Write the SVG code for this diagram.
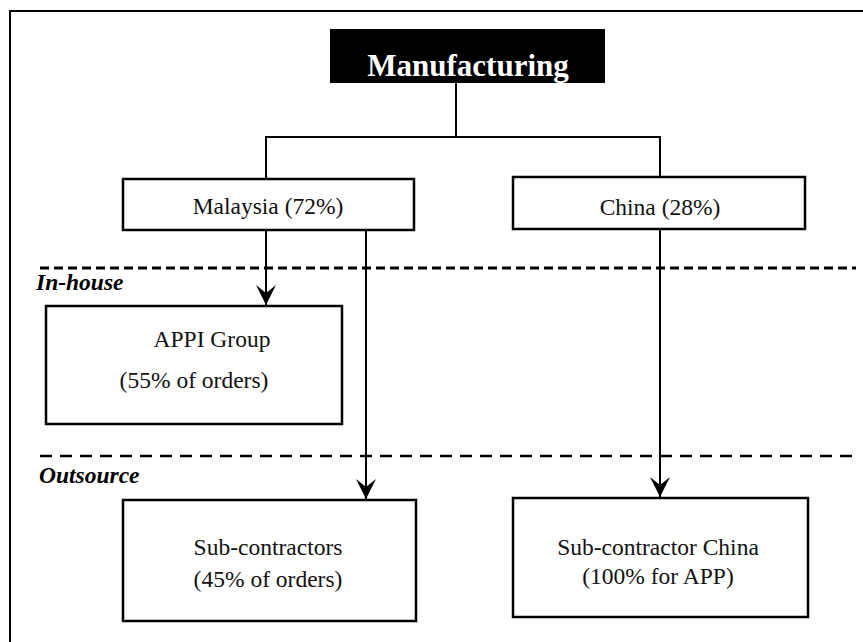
<svg xmlns="http://www.w3.org/2000/svg" width="863" height="642" viewBox="0 0 863 642">
  <style>
    .box { fill: #fff; stroke: #000; stroke-width: 2.5; }
    .line { fill: none; stroke: #000; stroke-width: 2; }
  </style>
  <defs>
    <marker id="arrow" markerUnits="userSpaceOnUse" markerWidth="24" markerHeight="24" viewBox="-22 -12 24 24" refX="0" refY="0" orient="auto" overflow="visible">
      <path d="M0,0 L-20,-10 L-12,0 L-20,10 Z" fill="#000"/>
    </marker>
  </defs>

  <rect width="863" height="642" fill="#fff"/>

  <!-- frame -->
  <path d="M10,642 V11 H863" class="line"/>

  <!-- zone separators -->
  <line x1="40" y1="268" x2="856" y2="268" stroke="#000" stroke-width="3" stroke-dasharray="9 5"/>
  <line x1="40" y1="456" x2="856" y2="456" stroke="#000" stroke-width="2.5" stroke-dasharray="12 8"/>
  <g font-family="Liberation Serif, Times New Roman, serif" font-size="23.5" font-weight="bold" font-style="italic" fill="#000">
    <text x="36" y="290">In-house</text>
    <text x="39" y="483">Outsource</text>
  </g>

  <!-- connectors -->
  <g id="connectors">
    <path class="line" d="M456,83 V137"/>
    <path class="line" d="M266,179 V137 H660 V177"/>
    <path class="line" d="M266,230 V305" marker-end="url(#arrow)"/>
    <path class="line" d="M366,230 V499" marker-end="url(#arrow)"/>
    <path class="line" d="M660,229 V497" marker-end="url(#arrow)"/>
  </g>

  <g id="manufacturing">
    <rect x="330" y="29" width="275" height="54" fill="#000"/>
    <text x="468" y="76" font-family="Liberation Serif, Times New Roman, serif" font-size="31" font-weight="bold" fill="#fff" text-anchor="middle">Manufacturing</text>
  </g>

  <g font-family="Liberation Serif, Times New Roman, serif" font-size="23.5" fill="#111" text-anchor="middle">
    <g id="malaysia">
      <rect class="box" x="123" y="179" width="291" height="51"/>
      <text x="268" y="214">Malaysia (72%)</text>
    </g>

    <g id="china">
      <rect class="box" x="513" y="177" width="292" height="52"/>
      <text x="660" y="215">China (28%)</text>
    </g>

    <g id="appi-group">
      <rect class="box" x="46" y="306" width="296" height="118"/>
      <text x="212" y="347">APPI Group</text>
      <text x="194" y="388">(55% of orders)</text>
    </g>

    <g id="sub-contractors">
      <rect class="box" x="123" y="500" width="293" height="121"/>
      <text x="268" y="555">Sub-contractors</text>
      <text x="268" y="587">(45% of orders)</text>
    </g>

    <g id="sub-contractor-china">
      <rect class="box" x="513" y="498" width="295" height="119"/>
      <text x="658" y="555">Sub-contractor China</text>
      <text x="658" y="584">(100% for APP)</text>
    </g>
  </g>
</svg>
